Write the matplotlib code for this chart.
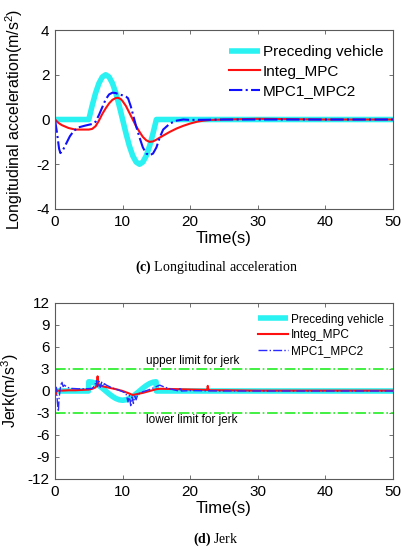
import matplotlib
matplotlib.use('Agg')
import matplotlib.pyplot as plt

plt.rcParams['font.family'] = ['Liberation Sans', 'DejaVu Sans']
plt.rcParams['axes.unicode_minus'] = False
plt.rcParams['mathtext.fontset'] = 'custom'
plt.rcParams['mathtext.rm'] = 'Liberation Sans'
plt.rcParams['mathtext.bf'] = 'Liberation Serif:bold'

# ---- (c) longitudinal acceleration ----
t_pre = [0, 5, 5.5, 6, 6.5, 7, 7.5, 8, 8.5, 9, 9.5, 10, 10.5, 11, 11.5,
         12, 12.5, 13, 13.5, 14, 14.5, 15, 50]
a_pre = [0, 0, 0.62, 1.18, 1.62, 1.9, 2.0, 1.9, 1.62, 1.18, 0.62, 0,
         -0.62, -1.18, -1.62, -1.9, -2.0, -1.9, -1.62, -1.18, -0.62, 0, 0]

t_integ = [0, 0.5, 1, 2, 3, 4, 5, 5.5, 6, 6.5, 7, 7.5, 8, 8.5, 9, 9.3,
           9.7, 10, 10.5, 11, 11.5, 12, 12.5, 13, 13.5, 14, 14.5, 15, 16,
           17, 18, 19, 20, 21, 22, 23, 25, 30, 40, 50]
a_integ = [0, -0.15, -0.25, -0.38, -0.45, -0.45, -0.45, -0.42, -0.3,
           -0.05, 0.25, 0.5, 0.72, 0.88, 0.96, 0.97, 0.92, 0.82, 0.6, 0.3,
           0.0, -0.3, -0.55, -0.78, -0.93, -1.0, -0.98, -0.9, -0.72,
           -0.55, -0.4, -0.28, -0.18, -0.1, -0.05, -0.02, 0.0, 0.03, 0.0, 0]

t_mpc = [0, 0.3, 0.6, 0.8, 1.2, 1.7, 2.2, 2.8, 3.5, 4.5, 5.5, 6, 6.5, 7,
         7.5, 8, 8.5, 9, 9.5, 10, 10.5, 10.8, 11.2, 11.6, 12, 12.5, 13,
         13.5, 14, 14.5, 15, 15.5, 16, 17, 18, 19, 20, 25, 50]
a_mpc = [0, -0.6, -1.3, -1.5, -1.35, -1.05, -0.75, -0.5, -0.35, -0.27,
         -0.2, -0.1, 0.2, 0.55, 0.9, 1.12, 1.2, 1.18, 1.12, 1.08, 1.02,
         0.95, 0.6, 0.15, -0.3, -0.8, -1.25, -1.52, -1.6, -1.52, -1.25,
         -0.8, -0.45, -0.18, -0.05, 0.0, -0.02, 0, 0]

# ---- (d) jerk ----
t_jpre = [0, 4.95, 5, 5.5, 6, 6.5, 7, 7.5, 8, 8.5, 9, 9.5, 10, 10.5, 11,
          11.5, 12, 12.5, 13, 13.5, 14, 14.5, 14.95, 15, 50]
j_pre = [0, 0, 1.26, 1.2, 1.02, 0.74, 0.39, 0, -0.39, -0.74, -1.02, -1.2,
         -1.26, -1.2, -1.02, -0.74, -0.39, 0, 0.39, 0.74, 1.02, 1.2, 1.26,
         0, 0]

t_jinteg = [0, 0.1, 0.2, 0.3, 0.5, 1, 2, 3, 4, 5, 5.5, 6, 6.2, 6.3, 6.4,
            6.6, 7, 8, 9, 10, 11, 11.5, 12, 13, 14, 15, 15.5, 16, 18, 20,
            22.5, 22.6, 22.7, 22.8, 25, 30, 50]
j_integ = [0.4, -0.5, 0.2, 0.0, 0.05, 0.05, 0.1, 0.1, 0.15, 0.2, 0.3,
           0.5, 0.9, 2.0, 0.9, 0.75, 0.65, 0.45, 0.25, 0.0, -0.35, -0.55,
           -0.45, -0.25, 0.0, 0.25, 0.3, 0.3, 0.25, 0.2, 0.15, 0.7, 0.15,
           0.1, 0.1, 0.05, 0.05]

t_jmpc = [0, 0.2, 0.35, 0.5, 0.6, 0.8, 1.0, 1.2, 1.4, 1.8, 2.5, 3.5, 4.5,
          5.5, 5.9, 6.1, 6.3, 6.5, 6.7, 6.9, 7.1, 7.3, 7.6, 8.5, 9.5, 10.5,
          10.8, 11.0, 11.2, 11.4, 11.6, 11.8, 12.0, 12.2, 12.5, 13, 14, 15,
          15.5, 16, 17, 18.3, 18.5, 18.7, 20, 25, 50]
j_mpc = [0, 0.5, -1.5, -2.8, -1.0, 0.5, 1.3, 0.6, 0.8, 0.5, 0.35, 0.3,
         0.3, 0.35, 0.8, 1.4, 0.6, 1.3, 0.5, 1.2, 0.6, 1.0, 0.8, 0.4, 0.1,
         -0.3, -1.5, -0.6, -2.0, -0.8, -1.7, -0.7, -1.2, -0.6, -0.3, -0.1,
         0.2, 0.6, 0.8, 0.6, 0.3, 0.0, 0.5, 0.0, 0.05, 0.0, 0]

j_upper = 3
j_lower = -3

W, H = 405, 550
fig = plt.figure(figsize=(W / 100, H / 100), dpi=100)

spine_col = '#5a5a5a'


def style_axes(ax):
    for s in ax.spines.values():
        s.set_color(spine_col)
        s.set_linewidth(0.8)
    ax.tick_params(direction='in', length=3, width=0.6, color=spine_col,
                   labelsize=11, top=True, right=True, pad=4)
    ax.set_xlim(0, 50)
    ax.set_xticks([0, 10, 20, 30, 40, 50])
    ax.set_xlabel('Time(s)', fontsize=12, labelpad=2)


cyan = '#2af2f2'

# top panel
ax1 = fig.add_axes([55 / W, 1 - 209 / H, 338 / W, 179 / H])
ax1.plot(t_pre, a_pre, color=cyan, lw=4, label='Preceding vehicle',
         solid_capstyle='butt')
ax1.plot(t_integ, a_integ, color='#ff1010', lw=1.5, label='Integ_MPC')
ax1.plot(t_mpc, a_mpc, color='#1010ff', lw=1.5, ls='-.',
         label='MPC1_MPC2')
ax1.set_ylim(-4, 4)
ax1.set_yticks([-4, -2, 0, 2, 4])
style_axes(ax1)
ax1.set_ylabel('Longitudinal acceleration(m/s$^2$)', fontsize=11.5)
ax1.yaxis.set_label_coords(-0.09, 0.5)
ax1.legend(loc='upper left', bbox_to_anchor=(0.515, 0.915), frameon=False,
           fontsize=11, handlelength=2.0, handletextpad=0.2,
           labelspacing=0.35, borderpad=0, borderaxespad=0)

# bottom panel
ax2 = fig.add_axes([55 / W, 1 - 479 / H, 338 / W, 176 / H])
ax2.plot(t_jpre, j_pre, color=cyan, lw=4, label='Preceding vehicle',
         solid_capstyle='butt')
ax2.plot(t_jinteg, j_integ, color='#ff1010', lw=1.5, label='Integ_MPC')
ax2.plot(t_jmpc, j_mpc, color='#2a2aff', lw=1.0, ls='-.',
         label='MPC1_MPC2')
ax2.axhline(j_upper, color='#22ee22', lw=1.2, ls='-.')
ax2.axhline(j_lower, color='#22ee22', lw=1.2, ls='-.')
ax2.text(13.5, 4.1, 'upper limit for jerk', fontsize=8.5, va='center',
         ha='left')
ax2.text(13.5, -4.0, 'lower limit for jerk', fontsize=8.5, va='center',
         ha='left')
ax2.set_ylim(-12, 12)
ax2.set_yticks([-12, -9, -6, -3, 0, 3, 6, 9, 12])
style_axes(ax2)
ax2.set_ylabel('Jerk(m/s$^3$)', fontsize=11.5)
ax2.yaxis.set_label_coords(-0.1, 0.5)
ax2.legend(loc='upper left', bbox_to_anchor=(0.6, 0.94), frameon=False,
           fontsize=8.5, handlelength=2.6, handletextpad=0.2,
           labelspacing=0.3, borderpad=0, borderaxespad=0)

# captions
fig.text(216 / W, 1 - 267 / H, r'$\mathbf{(c)}$ Longitudinal acceleration',
         ha='center', va='center', fontsize=10, family='Liberation Serif')
fig.text(216 / W, 1 - 539 / H, r'$\mathbf{(d)}$ Jerk', ha='center',
         va='center', fontsize=10, family='Liberation Serif')

fig.savefig('out.png', dpi=100)
